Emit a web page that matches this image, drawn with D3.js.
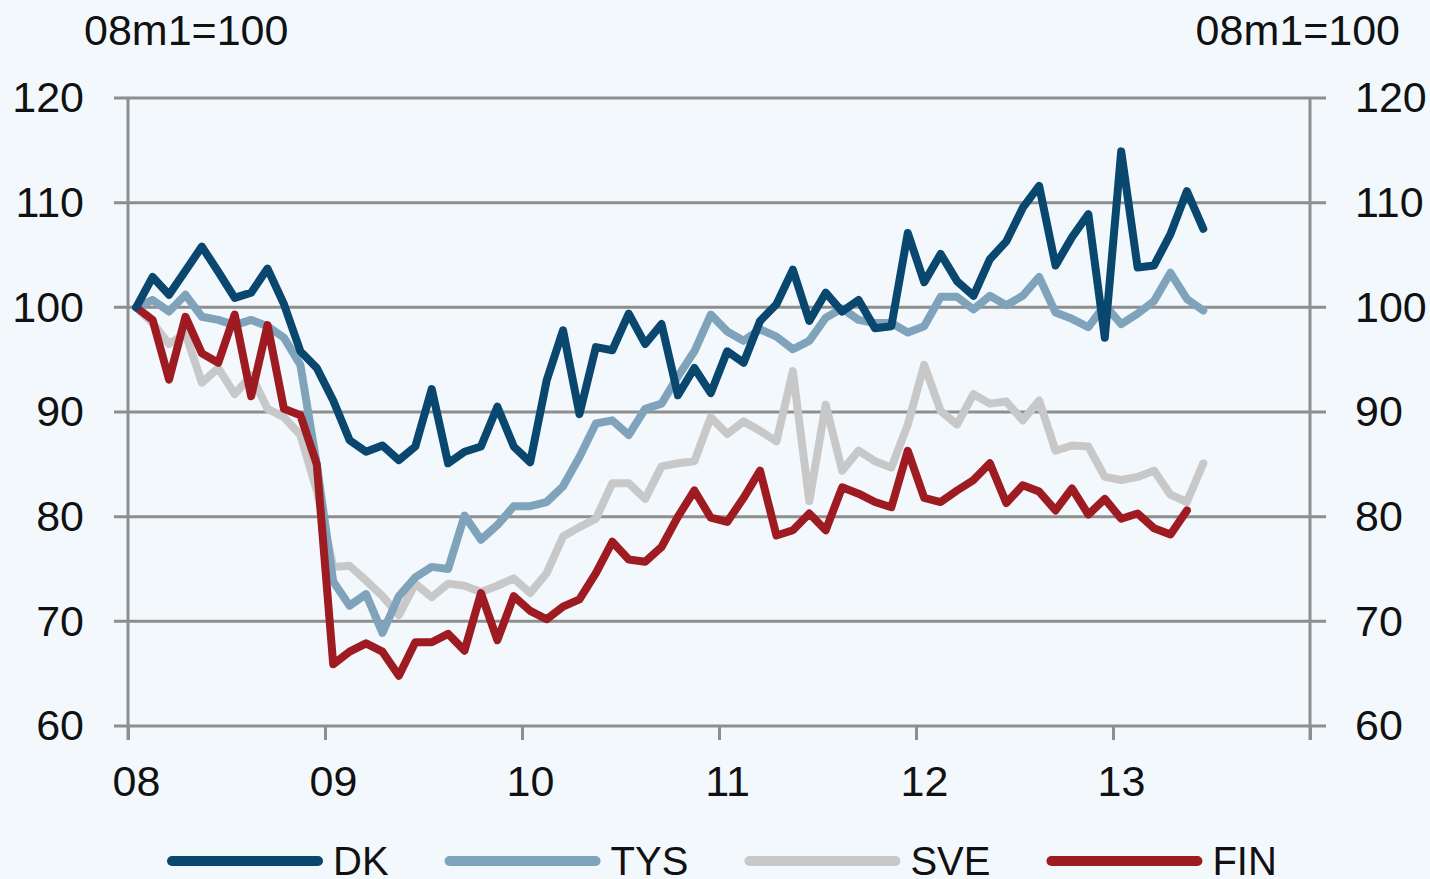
<!DOCTYPE html>
<html>
<head>
<meta charset="utf-8">
<script src="https://cdn.jsdelivr.net/npm/d3@7"></script>
<style>
  html, body { margin: 0; padding: 0; background: #f3f8fd; }
  svg { display: block; }
  text { font-family: "Liberation Sans", Arial, sans-serif; fill: #111; }
</style>
</head>
<body>
<svg id="chart" width="1430" height="879"></svg>
<script>
// 數據：2008m1 = 100，月度
const seriesNames = ['DK', 'TYS', 'SVE', 'FIN'];
const yearLabels = ['08', '09', '10', '11', '12', '13', ''];
const yTicks = [60, 70, 80, 90, 100, 110, 120];
const unitLabel = '08m1=100';

const dk = [100, 102.9, 101.2, 103.5, 105.8, 103.4, 100.9, 101.4, 103.7, 100.3,
  95.8, 94.2, 91.1, 87.3, 86.2, 86.8, 85.4, 86.7, 92.2, 85.1,
  86.2, 86.7, 90.5, 86.7, 85.2, 93.0, 97.8, 89.8, 96.2, 95.9,
  99.4, 96.5, 98.4, 91.6, 94.2, 91.8, 95.8, 94.7, 98.7, 100.3,
  103.6, 98.7, 101.4, 99.6, 100.7, 98.0, 98.2, 107.1, 102.4, 105.1,
  102.5, 101.1, 104.6, 106.3, 109.5, 111.6, 104.0, 106.7, 108.9, 97.1,
  114.9, 103.8, 104.0, 107.0, 111.1, 107.5];
const tys = [100, 100.7, 99.6, 101.2, 99.1, 98.8, 98.3, 98.8, 98.2, 97.1,
  94.5, 85.0, 73.8, 71.5, 72.6, 68.9, 72.4, 74.2, 75.2, 75.0,
  80.1, 77.8, 79.2, 81.0, 81.0, 81.4, 82.9, 85.7, 88.9, 89.2,
  87.8, 90.3, 90.8, 93.4, 95.8, 99.3, 97.7, 96.8, 97.9, 97.2,
  96.0, 96.8, 99.0, 99.9, 98.8, 98.5, 98.5, 97.6, 98.2, 101.0,
  101.0, 99.8, 101.1, 100.2, 101.1, 102.9, 99.5, 98.9, 98.1, 100.2,
  98.4, 99.4, 100.6, 103.3, 100.8, 99.7];
const sve = [100, 98.5, 96.5, 97.5, 92.8, 94.2, 91.7, 93.5, 90.3, 89.5,
  87.8, 82.5, 75.2, 75.3, 73.9, 72.4, 70.6, 73.6, 72.3, 73.6,
  73.4, 72.8, 73.4, 74.1, 72.7, 74.6, 78.1, 79.0, 79.8, 83.2,
  83.2, 81.7, 84.8, 85.1, 85.3, 89.5, 87.9, 89.1, 88.2, 87.2,
  93.9, 81.5, 90.7, 84.4, 86.3, 85.3, 84.7, 88.8, 94.5, 90.1,
  88.8, 91.7, 90.8, 91.0, 89.2, 91.1, 86.3, 86.8, 86.7, 83.8,
  83.5, 83.8, 84.4, 82.1, 81.4, 85.1];
const fin = [100, 98.8, 93.1, 99.1, 95.6, 94.7, 99.3, 91.5, 98.3, 90.3,
  89.7, 85.0, 65.9, 67.1, 67.9, 67.1, 64.8, 68.0, 68.0, 68.8,
  67.2, 72.7, 68.2, 72.4, 71.0, 70.2, 71.4, 72.1, 74.6, 77.6,
  75.9, 75.7, 77.1, 80.0, 82.5, 79.9, 79.5, 81.8, 84.4, 78.2,
  78.7, 80.3, 78.7, 82.8, 82.2, 81.4, 80.9, 86.3, 81.8, 81.4,
  82.5, 83.5, 85.1, 81.3, 83.0, 82.4, 80.6, 82.7, 80.2, 81.7,
  79.8, 80.3, 78.9, 78.3, 80.6];

const colors = { DK: '#0a476e', TYS: '#7fa3ba', SVE: '#c8c8c8', FIN: '#9e1b22' };
const values = { DK: dk, TYS: tys, SVE: sve, FIN: fin };
// 繪製順序：灰色最底，深藍最上
const drawOrder = ['SVE', 'TYS', 'FIN', 'DK'];

const svg = d3.select('#chart');
const plot = { left: 128, right: 1310, top: 98, bottom: 726 };
const gridColor = '#8e8e8e';
const fontSize = 43;

// 比例尺：x 以月份為單位，點位於月份中間
const x = d3.scaleLinear().domain([0, 72]).range([plot.left, plot.right]);
const y = d3.scaleLinear().domain([60, 120]).range([plot.bottom, plot.top]);

// 水平格線（含左右外伸刻度）
svg.append('g')
  .selectAll('line')
  .data(yTicks)
  .join('line')
  .attr('x1', plot.left - 14)
  .attr('x2', plot.right + 16)
  .attr('y1', d => y(d))
  .attr('y2', d => y(d))
  .attr('stroke', gridColor)
  .attr('stroke-width', 3);

// 左右縱軸
svg.append('g')
  .selectAll('line')
  .data([plot.left, plot.right])
  .join('line')
  .attr('x1', d => d).attr('x2', d => d)
  .attr('y1', plot.top).attr('y2', plot.bottom + 14)
  .attr('stroke', gridColor)
  .attr('stroke-width', 3);

// 左軸標籤
const leftAxis = svg.append('g')
  .attr('transform', `translate(${plot.left},0)`)
  .call(d3.axisLeft(y).tickValues(yTicks).tickSize(0).tickPadding(44));
leftAxis.select('.domain').remove();
leftAxis.selectAll('text').attr('font-size', fontSize).attr('fill', '#111');

// 右軸標籤
const rightAxis = svg.append('g')
  .attr('transform', `translate(${plot.right},0)`)
  .call(d3.axisRight(y).tickValues(yTicks).tickSize(0).tickPadding(45));
rightAxis.select('.domain').remove();
rightAxis.selectAll('text').attr('font-size', fontSize).attr('fill', '#111');

// 底部軸：年份刻度
const yearTicks = d3.range(0, 73, 12);
const bottomAxis = svg.append('g')
  .attr('transform', `translate(0,${plot.bottom})`)
  .call(d3.axisBottom(x).tickValues(yearTicks).tickSize(14)
    .tickFormat((d, i) => yearLabels[i]));
bottomAxis.select('.domain').remove();
bottomAxis.selectAll('line').attr('stroke', gridColor).attr('stroke-width', 3);
bottomAxis.selectAll('text')
  .attr('font-size', fontSize)
  .attr('fill', '#111')
  .attr('x', 8)
  .attr('y', 39)
  .attr('dy', '0.71em');

// 單位標籤
svg.append('text')
  .attr('x', 84).attr('y', 45)
  .attr('font-size', fontSize)
  .text(unitLabel);
svg.append('text')
  .attr('x', 1400).attr('y', 45)
  .attr('text-anchor', 'end')
  .attr('font-size', fontSize)
  .text(unitLabel);

// 折線
const line = d3.line()
  .x((d, i) => x(i + 0.5))
  .y(d => y(d));

svg.append('g')
  .selectAll('path')
  .data(drawOrder)
  .join('path')
  .attr('d', name => line(values[name]))
  .attr('fill', 'none')
  .attr('stroke', name => colors[name])
  .attr('stroke-width', 8)
  .attr('stroke-linejoin', 'round')
  .attr('stroke-linecap', 'round');

// 圖例
const legend = svg.append('g');
let lx = 172;
const ly = 861;
seriesNames.forEach(name => {
  legend.append('line')
    .attr('x1', lx).attr('x2', lx + 146)
    .attr('y1', ly).attr('y2', ly)
    .attr('stroke', colors[name])
    .attr('stroke-width', 10)
    .attr('stroke-linecap', 'round');
  const t = legend.append('text')
    .attr('x', lx + 161)
    .attr('y', ly + 14)
    .attr('font-size', 40)
    .text(name);
  lx += 146 + 15 + t.node().getComputedTextLength() + 61;
});
</script>
</body>
</html>
